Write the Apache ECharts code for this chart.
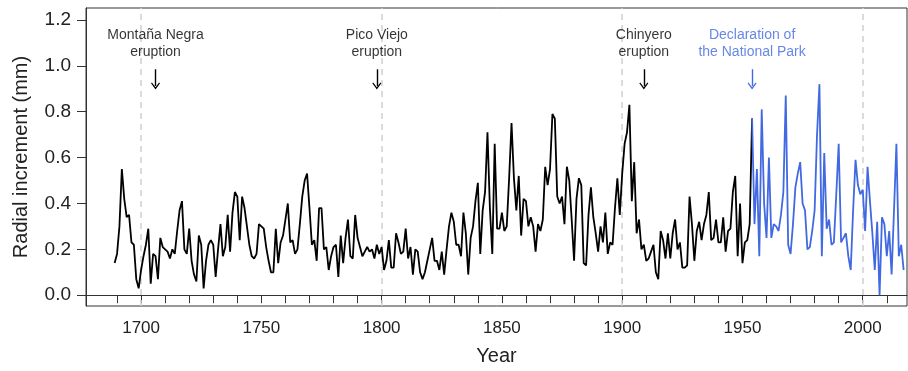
<!DOCTYPE html>
<html>
<head>
<meta charset="utf-8">
<script src="https://cdn.jsdelivr.net/npm/echarts@6/dist/echarts.min.js"></script>
<style>
  html, body { margin: 0; padding: 0; background: #fff; }
  #chart { width: 908px; height: 371px; }
</style>
</head>
<body>
<div id="chart"></div>
<script>
// Annual radial increment (mm)
const blackStart = 1689;
const blackValues = [
  0.14, 0.18, 0.30, 0.55, 0.42, 0.34, 0.35, 0.23, 0.22, 0.07, 0.03,
  0.11, 0.17, 0.22, 0.29, 0.05, 0.18, 0.17, 0.07, 0.25, 0.21,
  0.20, 0.19, 0.16, 0.20, 0.18, 0.28, 0.37, 0.41, 0.20, 0.18,
  0.29, 0.15, 0.09, 0.06, 0.26, 0.22, 0.03, 0.15, 0.22, 0.24,
  0.22, 0.08, 0.20, 0.31, 0.17, 0.21, 0.35, 0.19, 0.36, 0.45,
  0.43, 0.24, 0.43, 0.38, 0.30, 0.22, 0.17, 0.16, 0.18, 0.31,
  0.30, 0.29, 0.21, 0.15, 0.10, 0.10, 0.29, 0.14, 0.23, 0.26,
  0.33, 0.40, 0.23, 0.24, 0.18, 0.20, 0.31, 0.43, 0.50, 0.53,
  0.38, 0.22, 0.24, 0.15, 0.38, 0.38, 0.20, 0.21, 0.11, 0.17,
  0.21, 0.22, 0.08, 0.26, 0.14, 0.25, 0.33, 0.17, 0.16, 0.35,
  0.25, 0.21, 0.17, 0.19, 0.21, 0.19, 0.20, 0.16, 0.22, 0.18,
  0.21, 0.11, 0.15, 0.24, 0.12, 0.12, 0.27, 0.23, 0.18, 0.19,
  0.29, 0.16, 0.21, 0.09, 0.20, 0.19, 0.10, 0.07, 0.10, 0.15,
  0.20, 0.25, 0.15, 0.15, 0.11, 0.19, 0.09, 0.20, 0.30, 0.36,
  0.32, 0.22, 0.22, 0.17, 0.36, 0.27, 0.09, 0.25, 0.30, 0.41,
  0.49, 0.18, 0.37, 0.45, 0.71, 0.38, 0.18, 0.66, 0.29, 0.29,
  0.36, 0.28, 0.30, 0.51, 0.75, 0.51, 0.37, 0.52, 0.26, 0.42,
  0.41, 0.30, 0.34, 0.30, 0.19, 0.31, 0.28, 0.33, 0.56, 0.48,
  0.55, 0.79, 0.77, 0.43, 0.40, 0.43, 0.31, 0.56, 0.50, 0.33,
  0.15, 0.42, 0.51, 0.48, 0.14, 0.13, 0.35, 0.47, 0.34, 0.27,
  0.19, 0.30, 0.23, 0.36, 0.18, 0.23, 0.22, 0.38, 0.51, 0.35,
  0.53, 0.66, 0.71, 0.83, 0.41, 0.58, 0.27, 0.33, 0.20, 0.22,
  0.15, 0.16, 0.19, 0.22, 0.10, 0.07, 0.28, 0.24, 0.16, 0.27,
  0.16, 0.27, 0.33, 0.20, 0.23, 0.12, 0.12, 0.13, 0.43, 0.31,
  0.15, 0.28, 0.32, 0.24, 0.31, 0.35, 0.45, 0.24, 0.25, 0.33,
  0.23, 0.23, 0.34, 0.19, 0.28, 0.29, 0.45, 0.52, 0.17, 0.40,
  0.14, 0.23, 0.24, 0.31, 0.77
];
const blueStart = 1954;
const blueValues = [
  0.77, 0.31, 0.55, 0.17, 0.81, 0.40,
  0.25, 0.60, 0.25, 0.31, 0.30, 0.28, 0.35, 0.45, 0.87, 0.22,
  0.18, 0.31, 0.47, 0.53, 0.58, 0.40, 0.37, 0.20, 0.21, 0.28,
  0.37, 0.70, 0.92, 0.17, 0.62, 0.29, 0.33, 0.22, 0.23, 0.44,
  0.66, 0.23, 0.25, 0.27, 0.17, 0.11, 0.37, 0.59, 0.48, 0.44,
  0.46, 0.28, 0.56, 0.41, 0.27, 0.11, 0.32, 0.00, 0.34, 0.31,
  0.17, 0.28, 0.09, 0.37, 0.66, 0.17, 0.22, 0.11
];

const xTicks = [1690, 1700, 1710, 1720, 1730, 1740, 1750, 1760, 1770, 1780, 1790,
  1800, 1810, 1820, 1830, 1840, 1850, 1860, 1870, 1880, 1890, 1900, 1910, 1920,
  1930, 1940, 1950, 1960, 1970, 1980, 1990, 2000, 2010];
const xLabels = [1700, 1750, 1800, 1850, 1900, 1950, 2000];
const yTicks = [0, 0.2, 0.4, 0.6, 0.8, 1.0, 1.2];
const centuryYears = [1700, 1800, 1900, 2000];

const eventYears = [1706, 1798, 1909, 1954];
const eventLabels = ['Montaña Negra\neruption', 'Pico Viejo\neruption', 'Chinyero\neruption', 'Declaration of\nthe National Park'];
const parkYear = 1954;

const BLUE = '#4169E1';
const FONT = '"Liberation Sans", Arial, sans-serif';
const chevron = 'path://M5,0 L10,7 L9,8 L5,2.5 L1,8 L0,7 Z';

const toPairs = (start, vals) => vals.map((v, i) => [start + i, v]);

const chart = echarts.init(document.getElementById('chart'));

chart.setOption({
  animation: false,
  backgroundColor: '#fff',
  grid: {
    left: 86, right: 1, top: 8, bottom: 61,
    show: true, borderColor: '#333', borderWidth: 1
  },
  xAxis: {
    type: 'value',
    min: 1677.1, max: 2018.4,
    name: 'Year',
    nameLocation: 'middle',
    nameGap: 40,
    nameTextStyle: { fontSize: 20, color: '#222', fontFamily: FONT },
    axisLine: { show: true, lineStyle: { color: '#333' } },
    axisTick: { show: true, length: 8, customValues: xTicks, lineStyle: { color: '#333' } },
    axisLabel: {
      customValues: xLabels, margin: 14, fontSize: 17, color: '#222', fontFamily: FONT,
      formatter: v => String(v)
    },
    splitLine: { show: false }
  },
  yAxis: {
    type: 'value',
    min: -0.047, max: 1.252,
    name: 'Radial increment (mm)',
    nameLocation: 'middle',
    nameGap: 55,
    nameTextStyle: { fontSize: 20, color: '#222', fontFamily: FONT },
    axisLine: { show: true, lineStyle: { color: '#333' } },
    axisTick: { show: true, length: 9, customValues: yTicks, lineStyle: { color: '#333' } },
    axisLabel: {
      customValues: yTicks, margin: 15, fontSize: 19, color: '#222', fontFamily: FONT,
      formatter: v => v.toFixed(1)
    },
    splitLine: { show: false }
  },
  series: [
    {
      name: 'before',
      type: 'line',
      data: toPairs(blackStart, blackValues),
      showSymbol: false,
      lineStyle: { color: '#000', width: 1.8 },
      z: 3,
      markLine: {
        silent: true,
        symbol: 'none',
        label: { show: false },
        lineStyle: { color: '#d0d0d0', type: [6, 5], width: 1.5 },
        data: centuryYears.map(y => ({ xAxis: y })),
        z: 1
      }
    },
    {
      name: 'after',
      type: 'line',
      data: toPairs(blueStart, blueValues),
      showSymbol: false,
      lineStyle: { color: BLUE, width: 1.8 },
      z: 3
    },
    {
      name: 'events',
      type: 'scatter',
      symbolSize: 0,
      silent: true,
      data: eventYears.map((y, i) => ({
        value: [y, 1.097],
        label: {
          show: true,
          position: 'inside',
          formatter: eventLabels[i],
          fontSize: 14,
          lineHeight: 17,
          fontFamily: FONT,
          color: y === parkYear ? BLUE : '#000'
        }
      })),
      markLine: {
        silent: true,
        symbol: ['none', chevron],
        symbolSize: [9, 7],
        label: { show: false },
        data: eventYears.map(y => [
          { coord: [y, 0.985], lineStyle: { color: y === parkYear ? BLUE : '#000', width: 1.4, type: 'solid' } },
          { coord: [y, 0.912] }
        ])
      }
    }
  ]
});
</script>
</body>
</html>
